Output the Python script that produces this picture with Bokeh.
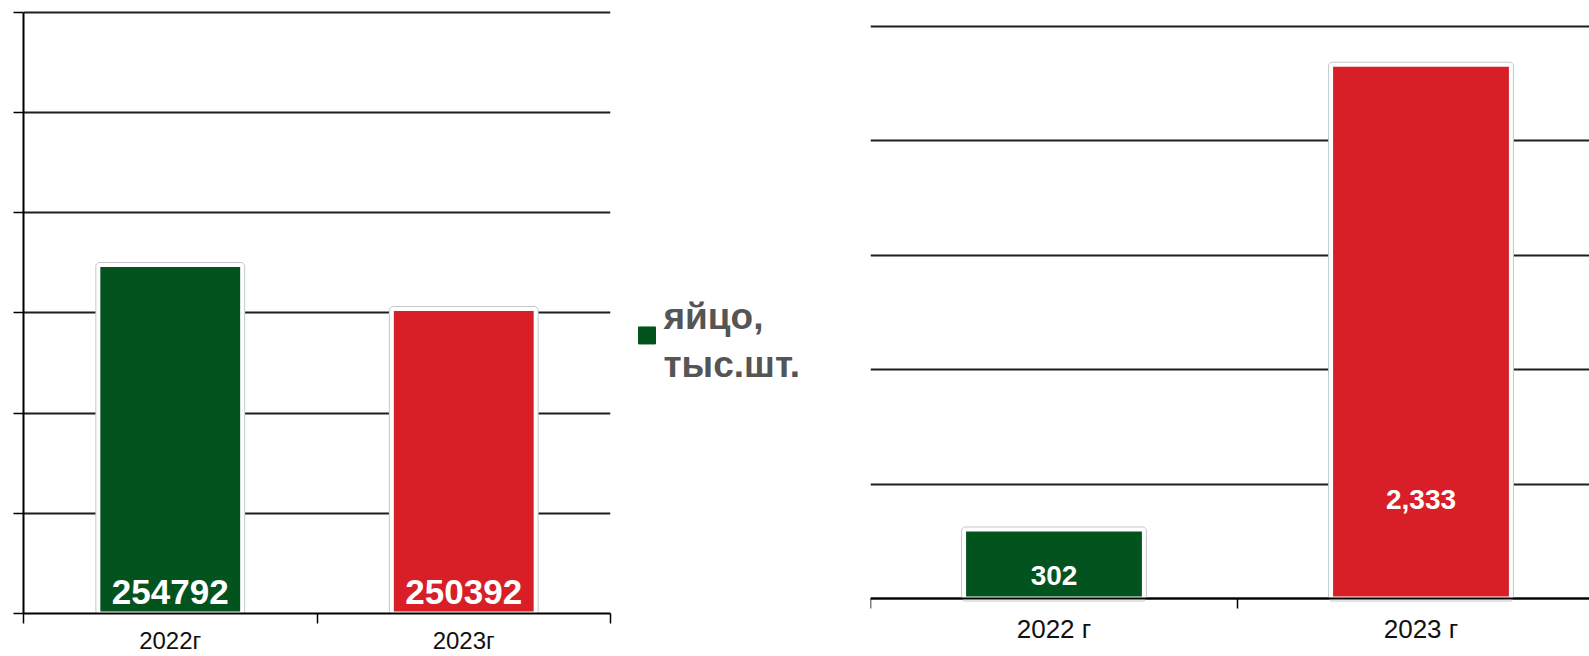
from bokeh.plotting import figure
from bokeh.models import Range1d, FixedTicker, LinearAxis
from bokeh.layouts import row
from bokeh.embed import file_html
from bokeh.resources import INLINE
from bokeh.core.properties import value

# ---------------- data ----------------
left_years = ["2022г", "2023г"]
left_values = [254792, 250392]
left_y_min = 220000
left_y_max = 280000
left_y_step = 10000

right_years = ["2022 г", "2023 г"]
right_values = [302, 2333]
right_label_y = [100, 432]
right_y_max = 2500
right_y_step = 500

bar_colors = ["#03531F", "#D81F27"]
legend_lines = ["яйцо,", "тыс.шт."]

# ---------------- layout constants (pixels) ----------------
FONT = "Liberation Sans"
GRID_COLOR = "#1e1e1e"
H = 656
FRAME_TOP = 10          # common frame top of the row (frames are aligned)
FRAME_BOTTOM = 614      # common frame bottom
L_TOP_PX, L_BOT_PX = 12, 614     # left: where max / min of the axis go
R_TOP_PX, R_BOT_PX = 26, 599     # right: where max / 0 of the axis go
R_FRAME_W = 719
R_CAT_W = 367


def span(v0, v1, p0, p1):
    """data range so that v0 sits at pixel p0 and v1 at pixel p1 (page y)."""
    k = (v1 - v0) / (p0 - p1)
    return Range1d(v0 - (FRAME_BOTTOM - p0) * k, v1 + (p1 - FRAME_TOP) * k)


def style_ticks(ax, ticks, n):
    ax.ticker = FixedTicker(ticks=ticks, minor_ticks=list(range(n + 1)))
    ax.major_tick_out = 0
    ax.major_tick_in = 0
    ax.minor_tick_out = 10
    ax.minor_tick_in = 0
    ax.minor_tick_line_color = "black"
    ax.minor_tick_line_width = 1.5
    ax.axis_line_color = "black"
    ax.axis_line_width = 2


def style_labels(ax, ticks, labels, size, standoff):
    ax.major_label_overrides = {x: lab for x, lab in zip(ticks, labels)}
    ax.major_label_standoff = standoff
    ax.major_label_text_font = FONT
    ax.major_label_text_font_size = size
    ax.major_label_text_color = "#111111"


# ---------------- left chart ----------------
xs = [i + 0.5 for i in range(len(left_years))]
p1 = figure(width=620, height=H, title=None, x_range=Range1d(0, len(left_years)),
            y_range=span(left_y_min, left_y_max, L_BOT_PX, L_TOP_PX),
            output_backend="svg", toolbar_location=None,
            min_border_left=23, min_border_right=10,
            min_border_top=FRAME_TOP, min_border_bottom=H - FRAME_BOTTOM)
p1.outline_line_color = None
p1.xgrid.visible = False
yticks = list(range(left_y_min, left_y_max + 1, left_y_step))
p1.ygrid.ticker = FixedTicker(ticks=yticks)
p1.ygrid.grid_line_color = GRID_COLOR
p1.ygrid.grid_line_width = 2
p1.yaxis.ticker = FixedTicker(ticks=yticks)
p1.yaxis.major_label_overrides = {t: "" for t in yticks}
p1.yaxis.major_label_standoff = 0
p1.yaxis.major_tick_out = 10
p1.yaxis.major_tick_in = 0
p1.yaxis.minor_tick_out = 0
p1.yaxis.minor_tick_in = 0
p1.yaxis.axis_line_color = "black"
p1.yaxis.axis_line_width = 2
p1.yaxis.major_tick_line_color = "black"
p1.yaxis.major_tick_line_width = 1.5
p1.yaxis.bounds = (left_y_min, left_y_max)
style_ticks(p1.xaxis[0], xs, len(left_years))
style_labels(p1.xaxis[0], xs, left_years, "24px", 3)

p1.vbar(x=xs, top=left_values, bottom=left_y_min, width=0.49,
        fill_color=bar_colors, line_color="#c8c8c8", line_width=6)
p1.vbar(x=xs, top=left_values, bottom=left_y_min, width=0.49,
        fill_color=bar_colors, line_color="white", line_width=4)
p1.text(x=xs, y=[left_y_min] * len(xs), text=[str(v) for v in left_values],
        text_color="white", text_font=value(FONT), text_font_style="bold",
        text_font_size="35px", text_align="center", text_baseline="alphabetic",
        y_offset=-22)

# ---------------- legend panel ----------------
p2 = figure(width=230, height=H, title=None, x_range=Range1d(0, 230),
            y_range=Range1d(FRAME_BOTTOM, FRAME_TOP),
            output_backend="svg", toolbar_location=None,
            min_border_left=0, min_border_right=0,
            min_border_top=FRAME_TOP, min_border_bottom=H - FRAME_BOTTOM)
p2.axis.visible = False
p2.grid.visible = False
p2.outline_line_color = None
p2.scatter(x=[26.5], y=[335.5], marker="square", size=17,
           fill_color=bar_colors[0], line_color=bar_colors[0])
p2.text(x=[43, 43], y=[317, 365], text=legend_lines,
        text_color="#555555", text_font=value(FONT), text_font_style="bold",
        text_font_size="37px", text_align="left", text_baseline="middle")

# ---------------- right chart ----------------
rxs = [i + 0.5 for i in range(len(right_years))]
p3 = figure(width=739, height=H, title=None, x_range=Range1d(0, R_FRAME_W / R_CAT_W),
            y_range=span(0, right_y_max, R_BOT_PX, R_TOP_PX),
            output_backend="svg", toolbar_location=None,
            min_border_left=20, min_border_right=0,
            min_border_top=FRAME_TOP, min_border_bottom=H - FRAME_BOTTOM)
p3.outline_line_color = None
p3.xgrid.visible = False
p3.yaxis.visible = False
ryticks = list(range(0, right_y_max + 1, right_y_step))
p3.ygrid.ticker = FixedTicker(ticks=ryticks)
p3.ygrid.grid_line_color = GRID_COLOR
p3.ygrid.grid_line_width = 2

# category labels: default axis at the frame edge, no line / ticks
lab_ax = p3.xaxis[0]
lab_ax.ticker = FixedTicker(ticks=rxs)
lab_ax.axis_line_color = None
lab_ax.major_tick_line_color = None
lab_ax.minor_tick_line_color = None
lab_ax.major_tick_out = 0
lab_ax.major_tick_in = 0
lab_ax.minor_tick_out = 0
lab_ax.minor_tick_in = 0
style_labels(lab_ax, rxs, right_years, "26px", 0)

# axis line + boundary ticks at value 0
base_ax = LinearAxis(fixed_location=0)
style_ticks(base_ax, rxs, len(right_years))
base_ax.major_label_overrides = {x: "" for x in rxs}
base_ax.major_label_standoff = 0
base_ax.major_label_text_font_size = "0px"
p3.add_layout(base_ax, "below")

p3.vbar(x=rxs, top=right_values, bottom=0, width=0.49,
        fill_color=bar_colors, line_color="#c8c8c8", line_width=6)
p3.vbar(x=rxs, top=right_values, bottom=0, width=0.49,
        fill_color=bar_colors, line_color="white", line_width=4)
p3.text(x=rxs, y=right_label_y, text=[f"{v:,}" for v in right_values],
        text_color="white", text_font=value(FONT), text_font_style="bold",
        text_font_size="28px", text_align="center", text_baseline="middle")

layout = row(p1, p2, p3)
open("out.html", "w").write(file_html(layout, INLINE))
